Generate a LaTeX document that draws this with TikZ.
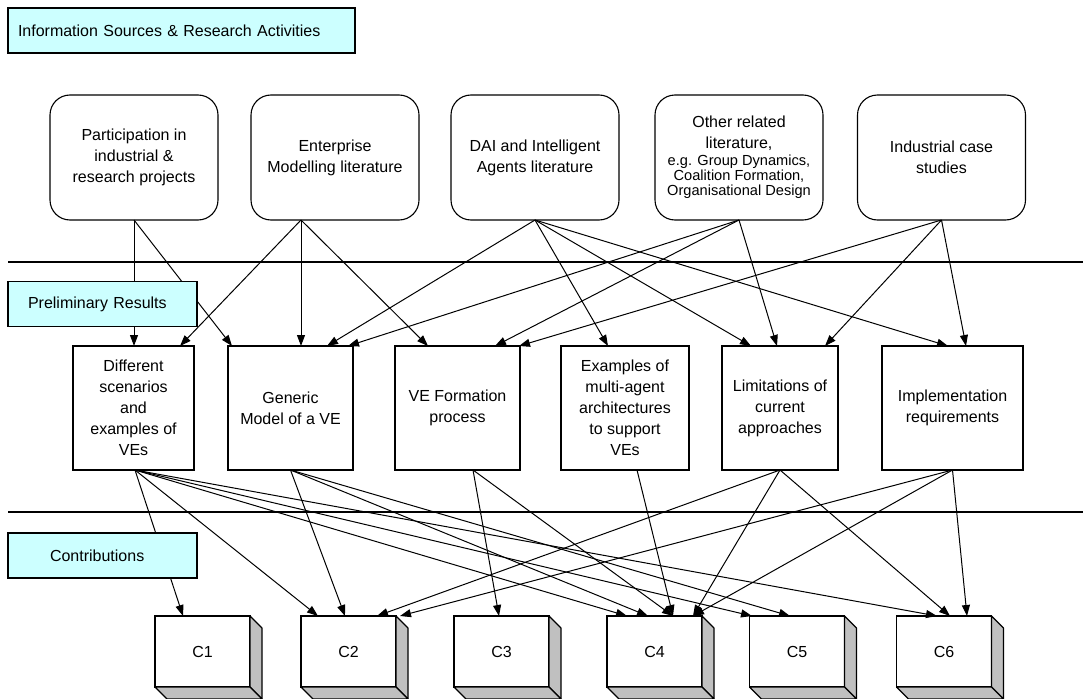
\documentclass[tikz,border=0pt]{standalone}
\usepackage{fontspec}
\setmainfont{Liberation Sans}
\usetikzlibrary{arrows.meta}
\definecolor{bandfill}{HTML}{CCFFFF}
\definecolor{facegray}{HTML}{C0C0C0}
\begin{document}
\begin{tikzpicture}[x=1pt,y=-1pt,
  every node/.style={font=\fontsize{16}{21}\selectfont, outer sep=0pt},
  source/.style={draw, line width=1.1pt, rounded corners=20pt, minimum width=168pt,
    minimum height=125pt, align=center, inner sep=2pt},
  result/.style={draw, line width=1.1pt, minimum height=124pt, align=center, inner sep=2pt},
  contrib/.style={draw, line width=1.1pt, fill=white, minimum width=95pt, minimum height=71pt},
  band/.style={draw, line width=1.1pt, fill=bandfill, minimum height=45pt, align=left},
  link/.style={line width=1pt, -{Triangle[length=11pt,width=8pt]}},
  divider/.style={line width=1.1pt},
  face/.style={fill=facegray, draw, line width=1.1pt, line join=round}]

\useasboundingbox (0,0) rectangle (1083,698);
\clip (0,0) rectangle (1083,698);

% section dividers
\draw[divider] (8,262) -- (1083,262);
\draw[divider] (8,512) -- (1083,512);

% information sources
\node[source] (part)  at (134,157.5)   {Participation in\\industrial \&\\research projects};
\node[source] (entm)  at (335,157.5)   {Enterprise\\Modelling literature};
\node[source] (dai)   at (535,157.5)   {DAI and Intelligent\\Agents literature};
\node[source] (other) at (739,157.5)   {Other related\\literature,\\[-4.3pt]
  {\fontsize{14.6}{15}\selectfont e.g. Group Dynamics,}\\[-6pt]
  {\fontsize{14.6}{15}\selectfont Coalition Formation,}\\[-6pt]
  {\fontsize{14.6}{15}\selectfont Organisational Design}};
\node[source] (indus) at (941.5,157.5) {Industrial case\\studies};

% preliminary results
\node[result, minimum width=121pt] (resA) at (133.5,408) {Different\\scenarios\\and\\examples of\\VEs};
\node[result, minimum width=125pt] (resB) at (290.5,408) {Generic\\Model of a VE};
\node[result, minimum width=125pt] (resC) at (457.5,408) {VE Formation\\process};
\node[result, minimum width=128pt] (resD) at (625,408)   {Examples of\\multi-agent\\architectures\\to support\\VEs};
\node[result, minimum width=116pt] (resE) at (780,408)   {Limitations of\\current\\approaches};
\node[result, minimum width=141pt] (resF) at (952.5,408) {Implementation\\requirements};

% contributions (front faces)
\node[contrib] (c1) at (202.5,651.5) {C1};
\node[contrib] (c2) at (348.5,651.5) {C2};
\node[contrib] (c3) at (501.5,651.5) {C3};
\node[contrib] (c4) at (654.5,651.5) {C4};
\node[contrib] (c5) at (797,651.5)   {C5};
\node[contrib] (c6) at (944,651.5)   {C6};

% depth faces of the contribution blocks
\foreach \n in {c1,c2,c3,c4,c5,c6} {
  \path[face] (\n.north east) -- ++(12,12) -- ++(0,71) -- (\n.south east) -- cycle;
  \path[face] (\n.south west) -- (\n.south east) -- ++(12,12) -- ++(-95,0) -- cycle;
}

% sources -> preliminary results
\draw[link] (part.south) -- ([xshift=0.5pt]resA.north);
\draw[link] (part.south) -- ([xshift=-58.5pt]resB.north);
\draw[link] ([xshift=-34pt]entm.south) -- ([xshift=46.5pt]resA.north);
\draw[link] ([xshift=-34pt]entm.south) -- ([xshift=10.5pt]resB.north);
\draw[link] ([xshift=-34pt]entm.south) -- ([xshift=-29.5pt]resC.north);
\draw[link] (dai.south) -- ([xshift=36.5pt]resB.north);
\draw[link] (dai.south) -- ([xshift=-17pt]resD.north);
\draw[link] (dai.south) -- ([xshift=-29pt]resE.north);
\draw[link] (dai.south) -- ([xshift=-4.5pt]resF.north);
\draw[link] (other.south) -- ([xshift=57.5pt]resB.north);
\draw[link] (other.south) -- ([xshift=37.5pt]resC.north);
\draw[link] (other.south) -- ([xshift=-3pt]resE.north);
\draw[link] (indus.south) -- ([xshift=61.5pt]resC.north);
\draw[link] (indus.south) -- ([xshift=45pt]resE.north);
\draw[link] (indus.south) -- ([xshift=13.5pt]resF.north);

% preliminary results -> contributions
\draw[link] ([xshift=1.5pt]resA.south) -- ([xshift=-19.5pt]c1.north);
\draw[link] ([xshift=1.5pt]resA.south) -- ([xshift=-30.5pt]c2.north);
\draw[link] ([xshift=1.5pt]resA.south) -- ([xshift=-27.5pt]c4.north);
\draw[link] ([xshift=1.5pt]resA.south) -- ([xshift=-45pt]c5.north);
\draw[link] ([xshift=1.5pt]resA.south) -- ([xshift=-7pt]c6.north);
\draw[link] (resB.south) -- ([xshift=-3.5pt]c2.north);
\draw[link] (resB.south) -- ([xshift=-6.5pt]c4.north);
\draw[link] (resB.south) -- ([xshift=-7pt]c5.north);
\draw[link] ([xshift=15.5pt]resC.south) -- ([xshift=-2.5pt]c3.north);
\draw[link] ([xshift=15.5pt]resC.south) -- ([xshift=18.5pt]c4.north);
\draw[link] ([xshift=12pt]resD.south) -- ([xshift=18.5pt]c4.north);
\draw[link] (resE.south) -- ([xshift=28.5pt]c2.north);
\draw[link] (resE.south) -- ([xshift=38.5pt]c4.north);
\draw[link] (resE.south) -- ([xshift=6pt]c6.north);
\draw[link] (resF.south) -- ([xshift=51.5pt]c2.north);
\draw[link] (resF.south) -- ([xshift=38.5pt]c4.north);
\draw[link] (resF.south) -- ([xshift=23pt]c6.north);

% section labels
\node[band, text width=327pt, inner xsep=10pt] (bandsrc) at (181.5,30.5)  {Information Sources \& Research Activities};
\node[band, text width=149pt, inner xsep=20pt] (bandres) at (102.5,304)   {Preliminary Results};
\node[band, text width=105pt, inner xsep=42pt] (bandcon) at (102.5,555.5) {Contributions};
\end{tikzpicture}
\end{document}
